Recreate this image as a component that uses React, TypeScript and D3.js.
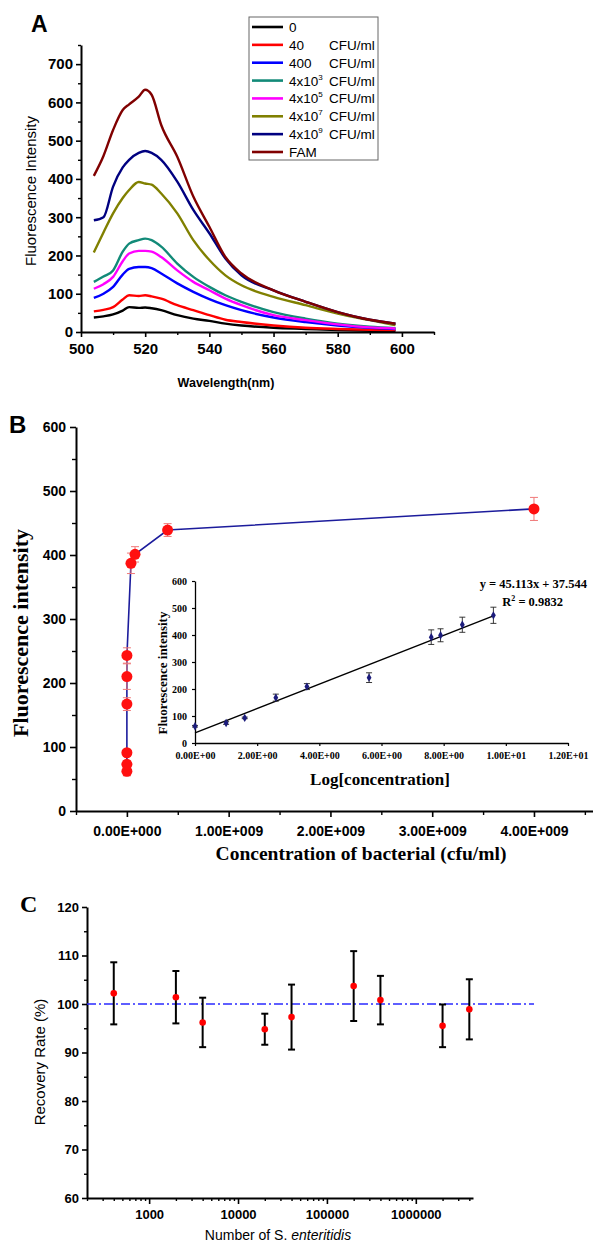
import React, { useEffect, useRef } from 'react';
import * as d3 from 'd3';

// ---------- Panel A: emission spectra ----------
const wavelengths = [504, 507, 510, 513, 515, 518, 520, 522, 525, 530, 535, 540, 545, 550, 560, 570, 580, 590, 598];
const spec0 = [38, 41, 46, 56, 65, 63, 64, 62, 57, 44, 35, 29, 22, 17, 11, 8, 5, 3, 2];
const spec40 = [54, 58, 65, 85, 96, 94, 96, 93, 87, 70, 57, 44, 32, 26, 17, 11, 8, 6, 5];
const spec400 = [89, 100, 118, 150, 165, 170, 170, 167, 153, 127, 105, 86, 70, 57, 38, 26, 17, 11, 8];
const spec4e3 = [131, 145, 161, 210, 231, 240, 244, 240, 223, 179, 144, 118, 96, 79, 52, 35, 22, 14, 10];
const spec4e5 = [113, 125, 144, 185, 205, 212, 212, 210, 196, 161, 131, 109, 87, 70, 44, 31, 20, 12, 9];
const spec4e7 = [208, 260, 310, 350, 371, 392, 388, 385, 362, 310, 240, 188, 148, 122, 92, 70, 48, 31, 18];
const spec4e9 = [292, 300, 380, 430, 450, 468, 473, 468, 450, 393, 319, 258, 192, 148, 109, 79, 52, 32, 22];
const specFAM = [408, 460, 528, 580, 595, 615, 633, 620, 541, 458, 354, 275, 196, 153, 109, 79, 52, 32, 22];
const spectra = [spec0, spec40, spec400, spec4e3, spec4e5, spec4e7, spec4e9, specFAM];
const spectraColors = ['#000000', '#ff0000', '#0000ff', '#128a78', '#ff00ff', '#808000', '#000080', '#800000'];
const legendBase = ['0', '40', '400', '4x10', '4x10', '4x10', '4x10', 'FAM'];
const legendSup = ['', '', '', '3', '5', '7', '9', ''];
const legendUnit = ['', 'CFU/ml', 'CFU/ml', 'CFU/ml', 'CFU/ml', 'CFU/ml', 'CFU/ml', ''];
const specXTicks = [500, 520, 540, 560, 580, 600];
const specYTicks = [0, 100, 200, 300, 400, 500, 600, 700];

// ---------- Panel B: intensity vs concentration ----------
const concentration = [0, 10, 40, 400, 4e3, 4e5, 4e7, 8e7, 4e8, 4e9];
const logConc = [0, 1, 1.6, 2.6, 3.6, 5.6, 7.6, 7.9, 8.6, 9.6];
const intensity = [62, 73, 91, 167, 210, 243, 387, 401, 439, 472];
const intensityErr = [7, 6, 4, 10, 20, 12, 16, 12, 10, 18];
const insetIntensity = [62, 74, 93, 168, 209, 242, 392, 399, 438, 473];
const insetErr = [3, 5, 3, 13, 11, 18, 27, 24, 28, 30];
const fitSlope = 45.113;
const fitIntercept = 37.544;
const concTicks = [0, 1e9, 2e9, 3e9, 4e9];
const concMinor = [-0.5e9, 0.5e9, 1.5e9, 2.5e9, 3.5e9, 4.5e9];
const intensityTicks = [0, 100, 200, 300, 400, 500, 600];
const logTicks = [0, 2, 4, 6, 8, 10, 12];

// ---------- Panel C: recovery ----------
const spiked = [400, 2000, 4000, 20000, 40000, 200000, 400000, 2000000, 4000000];
const recovery = [102.2, 101.4, 96.2, 94.8, 97.3, 103.7, 100.8, 95.5, 98.9];
const recoveryErr = [6.4, 5.4, 5.1, 3.2, 6.7, 7.2, 5.0, 4.4, 6.2];
const recoveryTicks = [60, 70, 80, 90, 100, 110, 120];
const decadeTicks = [1000, 10000, 100000, 1000000];

const ARIAL = "'Liberation Sans', Arial, sans-serif";
const TIMES = "'Liberation Serif', 'Times New Roman', serif";
const W = 593;
const H = 1245;

type Sel = d3.Selection<any, any, any, any>;

// style an axis group after .call(axis)
const styleAxis = (g: Sel, font: string, size: number, lineW = 2) => {
  g.select('.domain').attr('stroke', '#000').attr('stroke-width', lineW);
  g.selectAll('.tick line').attr('stroke', '#000').attr('stroke-width', 1.6);
  g.selectAll('.tick text')
    .attr('fill', '#000')
    .style('font-family', font)
    .style('font-size', size + 'px')
    .style('font-weight', 'bold');
  g.attr('font-family', null).attr('font-size', null);
};

const minorTicks = (g: Sel) => {
  g.select('.domain').remove();
  g.selectAll('.tick line').attr('stroke', '#000').attr('stroke-width', 1.4);
  g.selectAll('.tick text').remove();
};

const sci = (digits: number) => (v: number) => {
  if (v === 0) return '0.00E+' + '0'.repeat(digits);
  const e = Math.floor(Math.log10(Math.abs(v)));
  const m = v / Math.pow(10, e);
  return m.toFixed(2) + 'E+' + String(e).padStart(digits, '0');
};

const drawA = (svg: Sel) => {
  const x = d3.scaleLinear().domain([500, 610]).range([81, 434]);
  const y = d3.scaleLinear().domain([0, 750]).range([332, 45]);
  const g = svg.append('g');

  g.append('text').attr('x', 31).attr('y', 32).text('A')
    .style('font-family', ARIAL).style('font-size', '23px').style('font-weight', 'bold');

  // spectra
  const line = d3.line<number>()
    .x((d, i) => x(wavelengths[i]))
    .y((d) => y(d))
    .curve(d3.curveMonotoneX);
  spectra.forEach((s, i) => {
    g.append('path').attr('d', line(s) as string).attr('fill', 'none')
      .attr('stroke', spectraColors[i]).attr('stroke-width', 2.4);
  });

  // axes
  g.append('g').attr('transform', 'translate(0,332)')
    .call(d3.axisBottom(x).tickValues([510, 530, 550, 570, 590, 610]).tickSize(3).tickFormat(() => ''))
    .call(minorTicks);
  const xa = g.append('g').attr('transform', 'translate(0,332)')
    .call(d3.axisBottom(x).tickValues(specXTicks).tickSize(5).tickSizeOuter(0).tickPadding(6));
  styleAxis(xa, ARIAL, 15);
  g.append('g').attr('transform', 'translate(81,0)')
    .call(d3.axisLeft(y).tickValues([50, 150, 250, 350, 450, 550, 650, 750]).tickSize(3).tickFormat(() => ''))
    .call(minorTicks);
  const ya = g.append('g').attr('transform', 'translate(81,0)')
    .call(d3.axisLeft(y).tickValues(specYTicks).tickSize(5).tickSizeOuter(0).tickPadding(3));
  styleAxis(ya, ARIAL, 15);

  g.append('text').attr('transform', 'translate(36,191) rotate(-90)')
    .attr('text-anchor', 'middle').text('Fluorescence Intensity')
    .style('font-family', ARIAL).style('font-size', '15px');
  g.append('text').attr('x', 226).attr('y', 387).attr('text-anchor', 'middle')
    .text('Wavelength(nm)')
    .style('font-family', ARIAL).style('font-size', '12.5px').style('font-weight', 'bold');

  // legend
  const ly = d3.scalePoint<number>().domain(d3.range(spectra.length)).range([27, 152]);
  g.append('rect').attr('x', 249).attr('y', 17).attr('width', 129).attr('height', 143)
    .attr('fill', '#fff').attr('stroke', '#666').attr('stroke-width', 1);
  const rows = g.selectAll('.leg').data(d3.range(spectra.length)).enter().append('g')
    .attr('transform', (i) => `translate(0,${ly(i)})`);
  rows.append('line').attr('x1', 252).attr('x2', 283).attr('y1', 0).attr('y2', 0)
    .attr('stroke', (i) => spectraColors[i]).attr('stroke-width', 2.6);
  const t = rows.append('text').attr('x', 289).attr('y', 5)
    .style('font-family', ARIAL).style('font-size', '13.5px');
  t.append('tspan').text((i) => legendBase[i]);
  t.append('tspan').attr('dy', -6).style('font-size', '8px').text((i) => legendSup[i]);
  rows.append('text').attr('x', 329).attr('y', 5).text((i) => legendUnit[i])
    .style('font-family', ARIAL).style('font-size', '13.5px');
};

const drawB = (svg: Sel) => {
  const x = d3.scaleLinear().domain([-0.5e9, 4.58e9]).range([76, 593]);
  const y = d3.scaleLinear().domain([0, 600]).range([811, 427]);
  const g = svg.append('g');

  g.append('text').attr('x', 9).attr('y', 433).text('B')
    .style('font-family', ARIAL).style('font-size', '24px').style('font-weight', 'bold');

  g.append('g').attr('transform', 'translate(0,811)')
    .call(d3.axisBottom(x).tickValues(concMinor).tickSize(4).tickFormat(() => ''))
    .call(minorTicks);
  const xa = g.append('g').attr('transform', 'translate(0,811)')
    .call(d3.axisBottom(x).tickValues(concTicks).tickSize(6).tickSizeOuter(0).tickPadding(9)
      .tickFormat((d) => (d === 0 ? '0.00E+000' : sci(3)(d as number))));
  styleAxis(xa, ARIAL, 14);
  g.append('g').attr('transform', 'translate(76,0)')
    .call(d3.axisLeft(y).tickValues([50, 150, 250, 350, 450, 550]).tickSize(4).tickFormat(() => ''))
    .call(minorTicks);
  const ya = g.append('g').attr('transform', 'translate(76,0)')
    .call(d3.axisLeft(y).tickValues(intensityTicks).tickSize(6).tickSizeOuter(0).tickPadding(4));
  styleAxis(ya, ARIAL, 14);

  g.append('text').attr('transform', 'translate(28,633) rotate(-90)')
    .attr('text-anchor', 'middle').text('Fluorescence intensity')
    .style('font-family', TIMES).style('font-size', '22px').style('font-weight', 'bold');
  g.append('text').attr('x', 361).attr('y', 860).attr('text-anchor', 'middle')
    .text('Concentration of bacterial (cfu/ml)')
    .style('font-family', TIMES).style('font-size', '19.5px').style('font-weight', 'bold');

  // connecting line
  const line = d3.line<number>().x((d, i) => x(concentration[i])).y((d) => y(d));
  g.append('path').attr('d', line(intensity) as string).attr('fill', 'none')
    .attr('stroke', '#1c1c9c').attr('stroke-width', 1.6);

  // error bars
  const eb = g.selectAll('.eb').data(intensity).enter().append('g')
    .attr('stroke', '#f07878').attr('stroke-width', 1);
  eb.append('line').attr('x1', (d, i) => x(concentration[i])).attr('x2', (d, i) => x(concentration[i]))
    .attr('y1', (d, i) => y(d - intensityErr[i])).attr('y2', (d, i) => y(d + intensityErr[i]));
  [-1, 1].forEach((s) => {
    eb.append('line').attr('x1', (d, i) => x(concentration[i]) - 4).attr('x2', (d, i) => x(concentration[i]) + 4)
      .attr('y1', (d, i) => y(d + s * intensityErr[i])).attr('y2', (d, i) => y(d + s * intensityErr[i]));
  });
  g.selectAll('.pt').data(intensity).enter().append('circle')
    .attr('cx', (d, i) => x(concentration[i])).attr('cy', (d) => y(d)).attr('r', 5.5)
    .attr('fill', '#ff1010');

  // inset
  const xi = d3.scaleLinear().domain([0, 12]).range([195, 568]);
  const yi = d3.scaleLinear().domain([0, 600]).range([743, 581]);
  const xia = g.append('g').attr('transform', 'translate(0,743)')
    .call(d3.axisBottom(xi).tickValues(logTicks).tickSize(3).tickSizeOuter(0).tickPadding(6)
      .tickFormat((d) => sci(2)(d as number)));
  styleAxis(xia, TIMES, 10, 1.3);
  const yia = g.append('g').attr('transform', 'translate(195,0)')
    .call(d3.axisLeft(yi).tickValues(intensityTicks).tickSize(3).tickSizeOuter(0).tickPadding(5));
  styleAxis(yia, TIMES, 10, 1.3);
  xia.selectAll('.tick line').attr('stroke-width', 1.2);
  yia.selectAll('.tick line').attr('stroke-width', 1.2);

  g.append('text').attr('transform', 'translate(167,673) rotate(-90)')
    .attr('text-anchor', 'middle').text('Fluorescence intensity')
    .style('font-family', TIMES).style('font-size', '13px').style('font-weight', 'bold');
  g.append('text').attr('x', 380).attr('y', 785).attr('text-anchor', 'middle')
    .text('Log[concentration]')
    .style('font-family', TIMES).style('font-size', '17px').style('font-weight', 'bold');

  g.append('line').attr('x1', xi(0)).attr('x2', xi(9.6))
    .attr('y1', yi(fitIntercept)).attr('y2', yi(fitSlope * 9.6 + fitIntercept))
    .attr('stroke', '#000').attr('stroke-width', 1.4);

  const ie = g.selectAll('.ie').data(insetIntensity).enter().append('g')
    .attr('stroke', '#222').attr('stroke-width', 0.9);
  ie.append('line').attr('x1', (d, i) => xi(logConc[i])).attr('x2', (d, i) => xi(logConc[i]))
    .attr('y1', (d, i) => yi(d - insetErr[i])).attr('y2', (d, i) => yi(d + insetErr[i]));
  [-1, 1].forEach((s) => {
    ie.append('line').attr('x1', (d, i) => xi(logConc[i]) - 3).attr('x2', (d, i) => xi(logConc[i]) + 3)
      .attr('y1', (d, i) => yi(d + s * insetErr[i])).attr('y2', (d, i) => yi(d + s * insetErr[i]));
  });
  g.selectAll('.ip').data(insetIntensity).enter().append('path')
    .attr('d', d3.symbol().type(d3.symbolDiamond).size(20) as any)
    .attr('transform', (d, i) => `translate(${xi(logConc[i])},${yi(d)})`)
    .attr('fill', '#1c1c7c');

  g.append('text').attr('x', 587).attr('y', 588).attr('text-anchor', 'end')
    .text(`y = ${fitSlope}x + ${fitIntercept}`)
    .style('font-family', TIMES).style('font-size', '12.5px').style('font-weight', 'bold');
  const r2 = g.append('text').attr('x', 563).attr('y', 606).attr('text-anchor', 'end')
    .style('font-family', TIMES).style('font-size', '12.5px').style('font-weight', 'bold');
  r2.append('tspan').text('R');
  r2.append('tspan').attr('dy', -5).style('font-size', '8px').text('2');
  r2.append('tspan').attr('dy', 5).text(' = 0.9832');
};

const drawC = (svg: Sel) => {
  const x = d3.scaleLog().domain([200, 4.4e6]).range([87, 473]);
  const y = d3.scaleLinear().domain([60, 120]).range([1198, 907]);
  const g = svg.append('g');

  g.append('text').attr('x', 20).attr('y', 912).text('C')
    .style('font-family', TIMES).style('font-size', '24px').style('font-weight', 'bold');

  const minorLog: number[] = [];
  for (let k = 2; k <= 6; k++) {
    for (let m = 2; m <= 9; m++) {
      const v = m * Math.pow(10, k);
      if (v >= 200 && v <= 4.4e6) minorLog.push(v);
    }
  }
  g.append('g').attr('transform', 'translate(0,1198)')
    .call(d3.axisBottom(x).tickValues(minorLog).tickSize(3).tickFormat(() => ''))
    .call(minorTicks);
  const xa = g.append('g').attr('transform', 'translate(0,1198)')
    .call(d3.axisBottom(x).tickValues(decadeTicks).tickSize(6).tickSizeOuter(0).tickPadding(6)
      .tickFormat(d3.format('d') as any));
  styleAxis(xa, ARIAL, 13);
  g.append('g').attr('transform', 'translate(87,0)')
    .call(d3.axisLeft(y).tickValues([65, 75, 85, 95, 105, 115]).tickSize(3).tickFormat(() => ''))
    .call(minorTicks);
  const ya = g.append('g').attr('transform', 'translate(87,0)')
    .call(d3.axisLeft(y).tickValues(recoveryTicks).tickSize(5).tickSizeOuter(0).tickPadding(3));
  styleAxis(ya, ARIAL, 13);

  g.append('text').attr('transform', 'translate(45,1062) rotate(-90)')
    .attr('text-anchor', 'middle').text('Recovery Rate (%)')
    .style('font-family', ARIAL).style('font-size', '15px');
  const xl = g.append('text').attr('x', 278).attr('y', 1240).attr('text-anchor', 'middle')
    .style('font-family', ARIAL).style('font-size', '14px');
  xl.append('tspan').text('Number of S. ');
  xl.append('tspan').style('font-style', 'italic').text('enteritidis');

  g.append('line').attr('x1', 87).attr('x2', 534).attr('y1', y(100)).attr('y2', y(100))
    .attr('stroke', '#2a2aff').attr('stroke-width', 1.4).attr('stroke-dasharray', '9,3,2,3');

  const eb = g.selectAll('.eb').data(recovery).enter().append('g')
    .attr('stroke', '#000').attr('stroke-width', 2);
  eb.append('line').attr('x1', (d, i) => x(spiked[i])).attr('x2', (d, i) => x(spiked[i]))
    .attr('y1', (d, i) => y(d - recoveryErr[i])).attr('y2', (d, i) => y(d + recoveryErr[i]));
  [-1, 1].forEach((s) => {
    eb.append('line').attr('x1', (d, i) => x(spiked[i]) - 3.5).attr('x2', (d, i) => x(spiked[i]) + 3.5)
      .attr('y1', (d, i) => y(d + s * recoveryErr[i])).attr('y2', (d, i) => y(d + s * recoveryErr[i]));
  });
  g.selectAll('.pt').data(recovery).enter().append('circle')
    .attr('cx', (d, i) => x(spiked[i])).attr('cy', (d) => y(d)).attr('r', 3.3)
    .attr('fill', '#ff0000');
};

export default function App() {
  const ref = useRef<SVGSVGElement>(null);
  useEffect(() => {
    const svg = d3.select(ref.current);
    svg.selectAll('*').remove();
    drawA(svg);
    drawB(svg);
    drawC(svg);
  }, []);
  return (
    <svg
      ref={ref}
      width={W}
      height={H}
      style={{ position: 'absolute', left: 0, top: 0, background: '#fff' }}
    />
  );
}
